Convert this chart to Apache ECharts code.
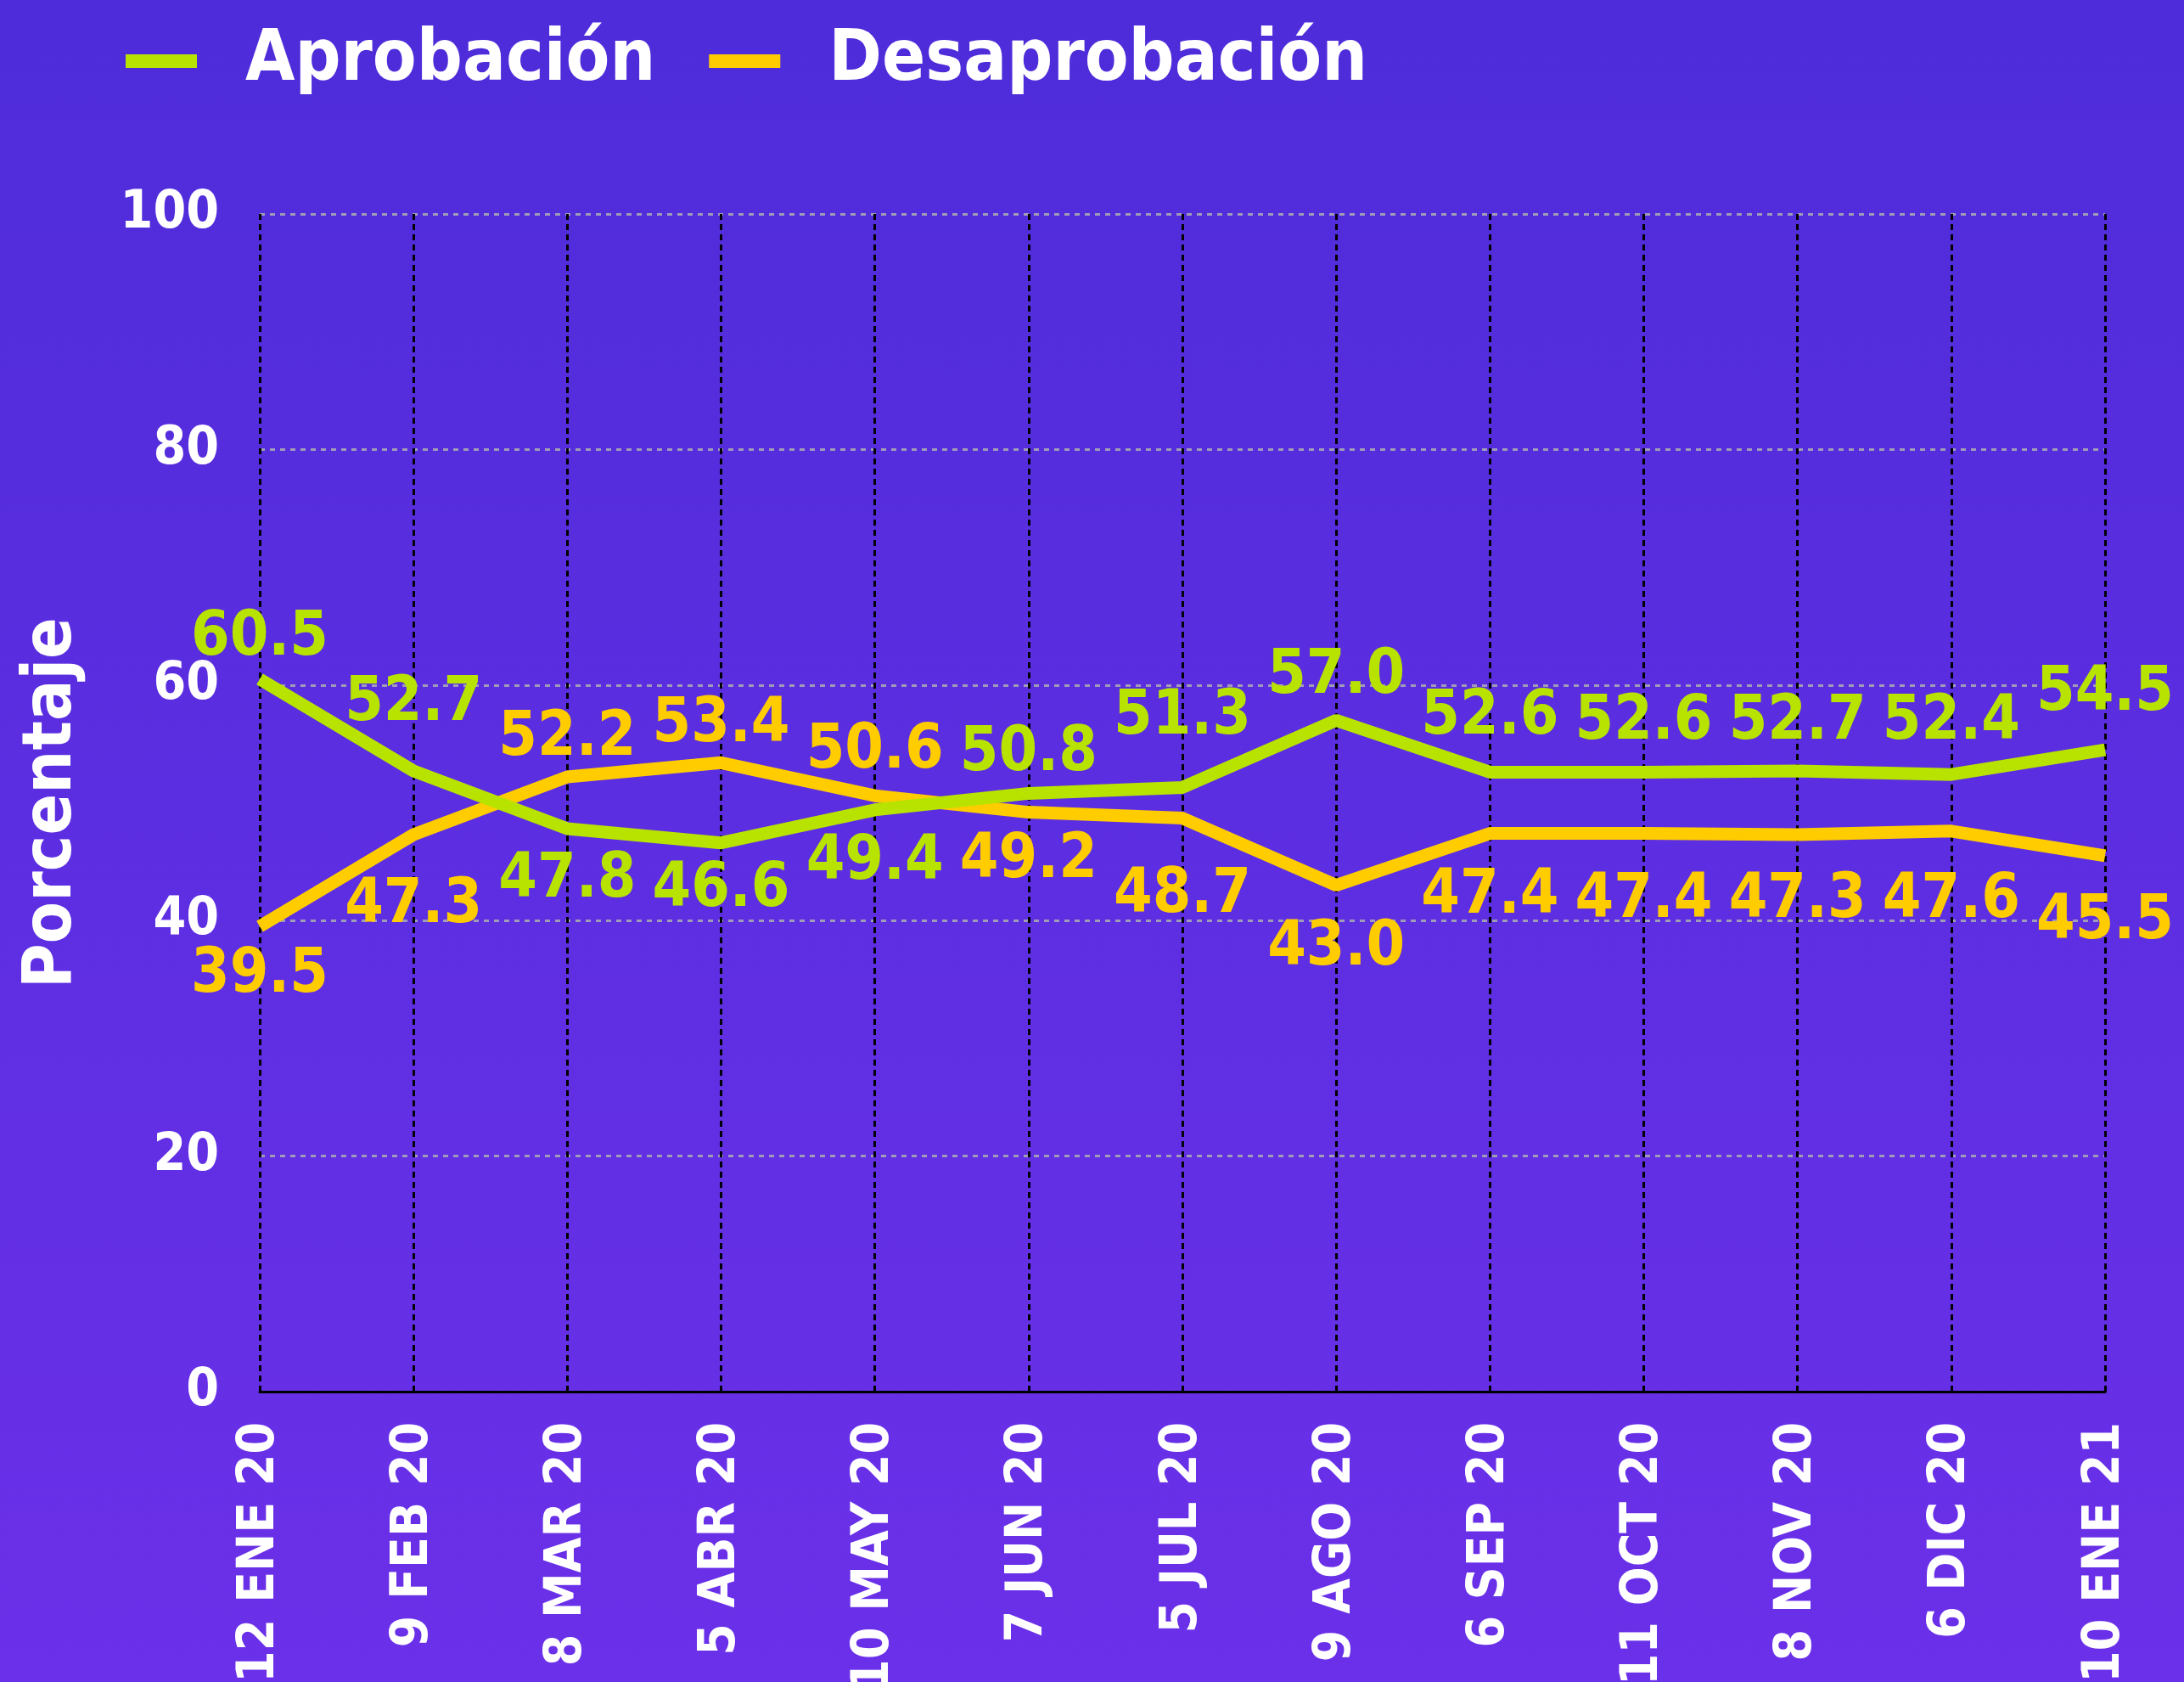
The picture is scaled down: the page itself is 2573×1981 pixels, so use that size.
<!DOCTYPE html>
<html>
<head>
<meta charset="utf-8">
<script src="https://cdn.jsdelivr.net/npm/echarts@6/dist/echarts.min.js"></script>
<style>
html,body{margin:0;padding:0;}
#chart{width:2573px;height:1981px;}
</style>
</head>
<body>
<div id="chart"></div>
<script>
const categories = ['12 ENE 20','9 FEB 20','8 MAR 20','5 ABR 20','10 MAY 20','7 JUN 20','5 JUL 20','9 AGO 20','6 SEP 20','11 OCT 20','8 NOV 20','6 DIC 20','10 ENE 21'];
const aprobacion = [60.5, 52.7, 47.8, 46.6, 49.4, 50.8, 51.3, 57.0, 52.6, 52.6, 52.7, 52.4, 54.5];
const desaprobacion = [39.5, 47.3, 52.2, 53.4, 50.6, 49.2, 48.7, 43.0, 47.4, 47.4, 47.3, 47.6, 45.5];
const yTicks = [0, 20, 40, 60, 80, 100];

// label vertical shifts (px, layout only)
const aprShift = [-48, -79, 61, 55, 62, -46, -82, -51, -64, -58, -57, -61, -66];
const desShift = [58, 84, -45, -44, -52, 57, 92, 74, 74, 79, 78, 82, 78];

const GREEN = '#B8E300';
const YELLOW = '#FFCC00';
const COND = '"DejaVu Sans Condensed", "DejaVu Sans", sans-serif';

const chart = echarts.init(document.getElementById('chart'));
chart.setOption({
  backgroundColor: {
    type: 'linear', x: 0, y: 0, x2: 0, y2: 1,
    colorStops: [{ offset: 0, color: '#4E2CD9' }, { offset: 1, color: '#6B30E9' }]
  },
  animation: false,
  legend: {
    left: 143, top: 25,
    icon: 'rect', itemWidth: 84, itemHeight: 16, itemGap: 63,
    textStyle: { color: '#fff', fontFamily: COND, fontWeight: 'bold', fontSize: 84, padding: [0, 0, 0, 52] },
    data: ['Aprobación', 'Desaprobación']
  },
  grid: { left: 306, right: 93, top: 252, bottom: 342, containLabel: false, outerBoundsMode: 'none' },
  xAxis: {
    type: 'category', data: categories, boundaryGap: false,
    axisLine: { show: true, lineStyle: { color: '#000', width: 3 } },
    axisTick: { show: false },
    axisLabel: { rotate: 90, margin: 36, color: '#fff', fontFamily: COND, fontWeight: 'bold', fontSize: 60, interval: 0 },
    splitLine: { show: true, lineStyle: { color: '#000', width: 3, type: [7, 5] } }
  },
  yAxis: {
    type: 'value', min: 0, max: 100, interval: 20,
    name: 'Porcentaje', nameLocation: 'middle', nameGap: 204,
    nameTextStyle: { color: '#fff', fontFamily: COND, fontWeight: 'bold', fontSize: 80 },
    axisLine: { show: false }, axisTick: { show: false },
    axisLabel: { margin: 48, color: '#fff', fontFamily: COND, fontWeight: 'bold', fontSize: 62,
      padding: [6, 0, 0, 0],
      formatter: v => yTicks.includes(v) ? String(v) : '' },
    splitLine: { show: true, lineStyle: { color: '#A09CB8', width: 3, type: [6, 6] } }
  },
  series: [
    {
      name: 'Aprobación', type: 'line', data: aprobacion,
      symbol: 'circle', symbolSize: 1, showSymbol: true, itemStyle: { color: GREEN },
      lineStyle: { color: GREEN, width: 15 }, color: GREEN,
      label: { show: true, position: 'inside', color: GREEN, fontFamily: COND, fontWeight: 'bold', fontSize: 73,
        formatter: p => Number(p.value).toFixed(1) },
      labelLayout: p => ({ dy: aprShift[p.dataIndex], hideOverlap: false }),
      z: 3
    },
    {
      name: 'Desaprobación', type: 'line', data: desaprobacion,
      symbol: 'circle', symbolSize: 1, showSymbol: true, itemStyle: { color: YELLOW },
      lineStyle: { color: YELLOW, width: 15 }, color: YELLOW,
      label: { show: true, position: 'inside', color: YELLOW, fontFamily: COND, fontWeight: 'bold', fontSize: 73,
        formatter: p => Number(p.value).toFixed(1) },
      labelLayout: p => ({ dy: desShift[p.dataIndex], hideOverlap: false }),
      z: 2
    }
  ]
});
</script>
</body>
</html>
